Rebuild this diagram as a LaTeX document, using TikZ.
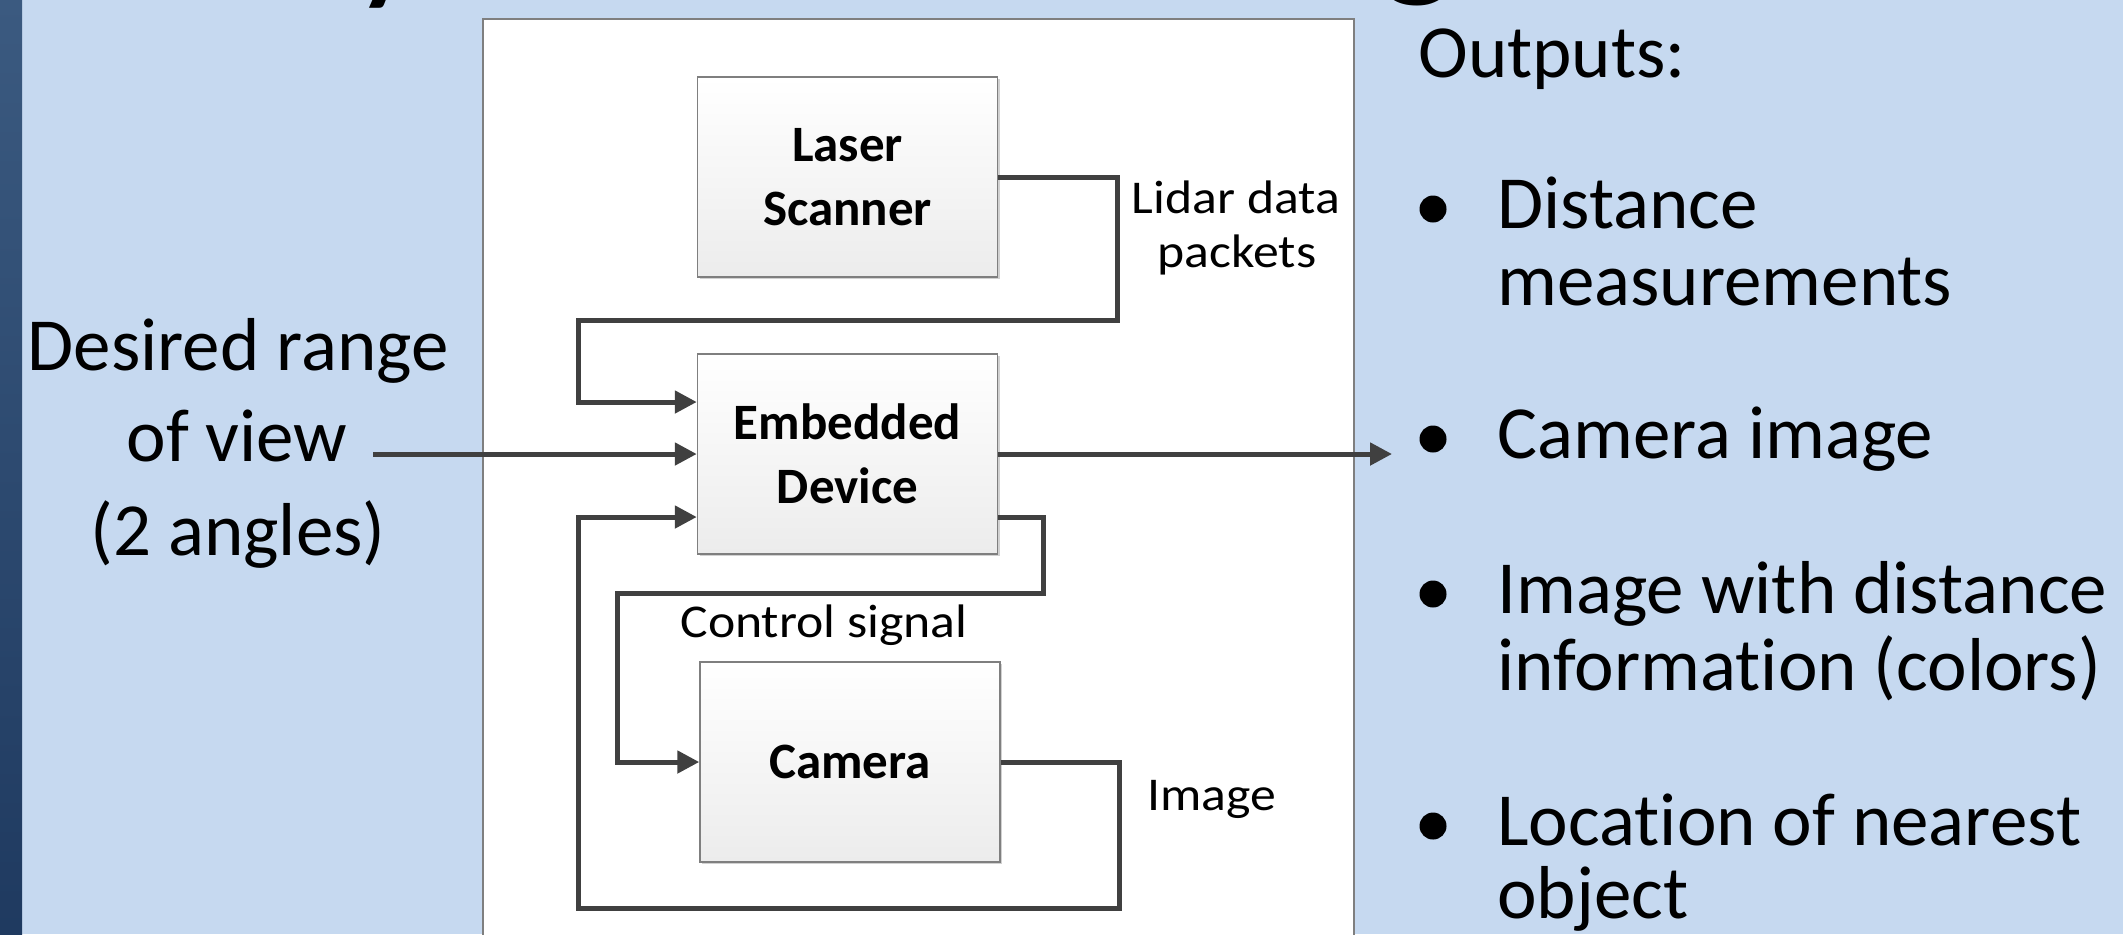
\documentclass[tikz,border=0pt]{standalone}
\usepackage{fontspec}
\setmainfont{Carlito}[Ligatures=NoCommon]
\usetikzlibrary{arrows.meta,shadows}

\definecolor{slidebg}{RGB}{198,217,240}
\definecolor{stripetop}{RGB}{59,90,128}
\definecolor{stripebot}{RGB}{31,58,96}
\definecolor{wire}{RGB}{64,64,64}
\definecolor{frame}{RGB}{127,127,127}
\definecolor{boxbot}{RGB}{236,236,236}

% labels in the block diagram are set slightly wide
\newcommand\widetext[1]{\scalebox{1.1}[1]{#1}}

\begin{document}
\begin{tikzpicture}[x=0.5pt,y=-0.5pt,
  wire/.style={draw=wire,line width=2.5pt,line join=miter},
  flow/.style={wire,-{Triangle[length=11pt,width=11pt]}},
  block/.style={draw=frame,line width=0.75pt,top color=white,bottom color=boxbot,
    minimum width=150pt,minimum height=100pt,inner sep=0pt,align=center,
    drop shadow={shadow xshift=1.2pt,shadow yshift=-1.2pt,opacity=0.18,fill=black},
    font=\fontsize{25.5}{32}\selectfont\bfseries},
  tag/.style={inner sep=0pt,font=\fontsize{23.5}{27}\selectfont},
  big/.style={inner sep=0pt,font=\fontsize{37.5}{45}\selectfont},
  headline/.style={inner sep=0pt,font=\fontsize{80}{80}\selectfont},
  dot/.style={circle,fill=black,inner sep=0pt,minimum size=13.5pt},
]
\useasboundingbox (0,0) rectangle (2123,934);
\clip (0,0) rectangle (2123,934);

% slide background and the dark stripe on the left
\fill[slidebg] (0,0) rectangle (2123,934);
\shade[top color=stripetop,bottom color=stripebot] (0,0) rectangle (22,934);

% descenders of the slide heading above the frame
\node[headline,anchor=base west] (heady) at (352,-18) {y};
\node[headline,anchor=base] (headg) at (1418,-22) {g};

% white panel holding the block diagram
\draw[draw=frame,fill=white,line width=0.75pt] (483,19) rectangle (1354,960);

% blocks
\node[block] (laser) at (847.5,177) {Laser\\Scanner};
\node[block] (emb) at (847.5,454) {Embedded\\Device};
\node[block] (cam) at (850,762) {Camera};

% free ends of the input and output arrows
\coordinate (inStart) at (373,454);
\coordinate (outEnd) at (1392,454);

% connectors
\draw[flow] (laser.east) -- (1117,177) -- (1117,320) -- (578,320) -- (578,402)
  -- ([yshift=26pt]emb.west);
\draw[flow] (inStart) -- (emb.west);
\draw[flow] (emb.east) -- (outEnd);
\draw[flow] ([yshift=-31.5pt]emb.east) -- (1043,517) -- (1043,593) -- (617,593)
  -- (617,762) -- (cam.west);
\draw[flow] (cam.east) -- (1119,762) -- (1119,908) -- (578,908) -- (578,517)
  -- ([yshift=-31.5pt]emb.west);

% connector labels
\node[tag,anchor=base] (lidarA) at (1236,213) {\widetext{Lidar data}};
\node[tag,anchor=base] (lidarB) at (1237,267) {\widetext{packets}};
\node[tag,anchor=base] (ctrl) at (824,637) {\widetext{Control signal}};
\node[tag,anchor=base west] (img) at (1147,810) {\widetext{Image}};

% input description
\node[big,anchor=base] (want1) at (238,370) {Desired range};
\node[big,anchor=base] (want2) at (237,461) {of view};
\node[big,anchor=base] (want3) at (238,555) {(2 angles)};

% list of outputs
\node[big,anchor=base west] (outs) at (1418,77) {Outputs:};
\node[dot] (b1) at (1433,209) {};
\node[big,anchor=base west] (o1a) at (1497,228) {Distance};
\node[big,anchor=base west] (o1b) at (1497,305) {measurements};
\node[dot] (b2) at (1433,439) {};
\node[big,anchor=base west] (o2a) at (1497,458) {Camera image};
\node[dot] (b3) at (1433,594) {};
\node[big,anchor=base west] (o3a) at (1497,613) {Image with distance};
\node[big,anchor=base west] (o3b) at (1497,690) {information (colors)};
\node[dot] (b4) at (1433,826) {};
\node[big,anchor=base west] (o4a) at (1497,845) {Location of nearest};
\node[big,anchor=base west] (o4b) at (1497,918) {object};
\end{tikzpicture}
\end{document}
